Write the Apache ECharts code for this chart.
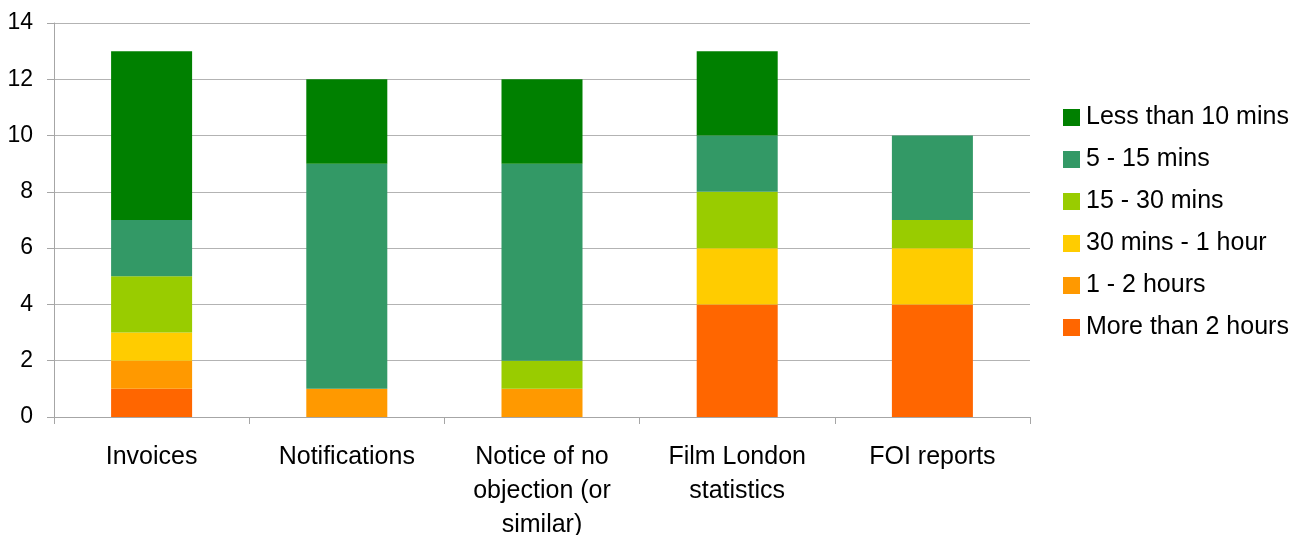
<!DOCTYPE html>
<html>
<head>
<meta charset="utf-8">
<script src="https://cdn.jsdelivr.net/npm/echarts@6/dist/echarts.min.js"></script>
<style>
  html, body { margin: 0; padding: 0; background: #fff; }
  #chart { width: 1305px; height: 535px; }
</style>
</head>
<body>
<div id="chart"></div>
<script>
// Task categories along the x axis
const categories = ['Invoices', 'Notifications', 'Notice of no\nobjection (or\nsimilar)', 'Film London\nstatistics', 'FOI reports'];

// Number of responses per time band, stacked bottom to top
const moreThan2Hours = [1, 0, 0, 4, 4];
const oneToTwoHours = [1, 1, 1, 0, 0];
const thirtyMinsTo1Hour = [1, 0, 0, 2, 2];
const fifteenTo30Mins = [2, 0, 1, 2, 1];
const fiveTo15Mins = [2, 8, 7, 2, 3];
const lessThan10Mins = [6, 3, 3, 3, 0];

const bandNames = ['More than 2 hours', '1 - 2 hours', '30 mins - 1 hour', '15 - 30 mins', '5 - 15 mins', 'Less than 10 mins'];
const bandValues = [moreThan2Hours, oneToTwoHours, thirtyMinsTo1Hour, fifteenTo30Mins, fiveTo15Mins, lessThan10Mins];
const bandColors = ['#FF6600', '#FF9900', '#FFCC00', '#99CC00', '#339966', '#008000'];

const yTicks = { min: 0, max: 14, interval: 2 };

const font = 'Liberation Sans, Arial, sans-serif';

const chart = echarts.init(document.getElementById('chart'), null, { renderer: 'canvas' });

chart.setOption({
  animation: false,
  backgroundColor: '#ffffff',
  grid: { left: 54, right: 275, top: 23, bottom: 118, containLabel: false, outerBoundsMode: 'none' },
  legend: {
    orient: 'vertical',
    left: 1063,
    top: 105,
    padding: 0,
    icon: 'rect',
    itemWidth: 17,
    itemHeight: 17,
    itemGap: 17,
    data: bandNames.slice().reverse(),
    textStyle: { fontFamily: font, fontSize: 25, color: '#000', lineHeight: 25, padding: [0, 0, 0, 1] }
  },
  xAxis: {
    type: 'category',
    data: categories,
    axisLine: { lineStyle: { color: '#a6a6a6', width: 1 } },
    axisTick: { show: true, length: 7, alignWithLabel: false, lineStyle: { color: '#a6a6a6' } },
    axisLabel: { fontFamily: font, fontSize: 25, color: '#000', margin: 23, lineHeight: 34, interval: 0 },
    splitLine: { show: false }
  },
  yAxis: {
    type: 'value',
    min: yTicks.min,
    max: yTicks.max,
    interval: yTicks.interval,
    axisLine: { show: true, lineStyle: { color: '#a6a6a6', width: 1 } },
    axisTick: { show: true, length: 7, lineStyle: { color: '#a6a6a6' } },
    axisLabel: { fontFamily: font, fontSize: 23, color: '#000', margin: 21 },
    splitLine: { show: true, lineStyle: { color: '#b3b3b3', width: 1 } }
  },
  series: bandNames.map((name, i) => ({
    name,
    type: 'bar',
    stack: 'total',
    barWidth: '41.5%',
    data: bandValues[i],
    itemStyle: { color: bandColors[i] },
    emphasis: { disabled: true }
  }))
});
</script>
</body>
</html>
